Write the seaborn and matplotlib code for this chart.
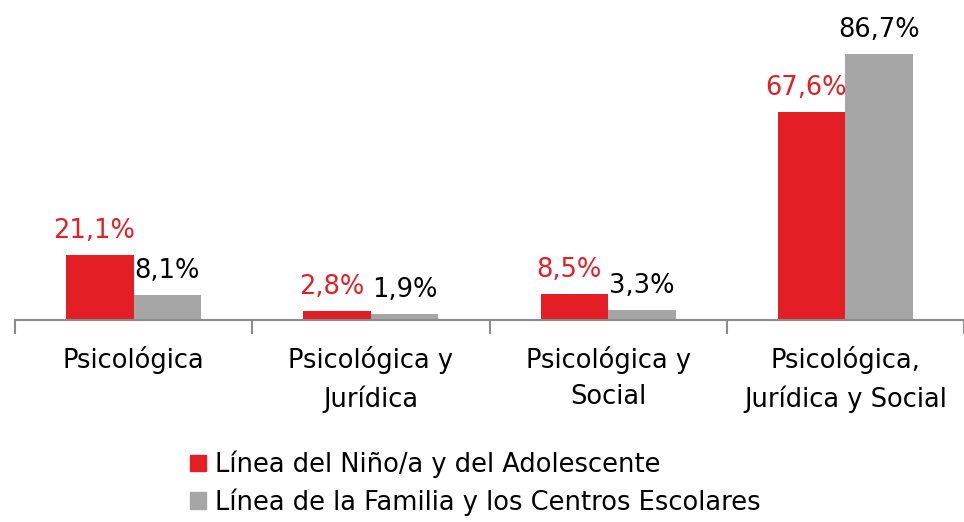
import pandas as pd
import matplotlib.pyplot as plt
import seaborn as sns
from matplotlib.ticker import FixedLocator

# datos
categorias = ["Psicológica", "Psicológica y\nJurídica", "Psicológica y\nSocial",
              "Psicológica,\nJurídica y Social"]
series = ["Línea del Niño/a y del Adolescente",
          "Línea de la Familia y los Centros Escolares"]
valores_nino = [21.1, 2.8, 8.5, 67.6]
valores_familia = [8.1, 1.9, 3.3, 86.7]
colores = ["#e31e24", "#a6a6a6"]

df = pd.DataFrame({
    "categoria": categorias * 2,
    "serie": [series[0]] * 4 + [series[1]] * 4,
    "valor": valores_nino + valores_familia,
})

sns.set_theme(style="white")
plt.rcParams['font.family'] = ['DejaVu Sans']
FS = 18.5

fig = plt.figure(figsize=(9.64, 5.22), dpi=100)
ax = fig.add_axes([15 / 964, 1 - 320 / 522, 949 / 964, 307 / 522])

sns.barplot(data=df, x="categoria", y="valor", hue="serie", hue_order=series,
            palette=colores, width=0.57, gap=0, saturation=1, linewidth=0,
            ax=ax, legend=True)

ax.set_ylim(0, 100)
ax.set_xlim(-0.5, 3.5)
ax.set_xlabel("")
ax.set_ylabel("")
ax.set_yticks([])
for s in ["top", "right", "left"]:
    ax.spines[s].set_visible(False)
ax.spines["bottom"].set_color("#8c8c8c")
ax.spines["bottom"].set_linewidth(1.5)

# etiquetas en los centros, marcas en los límites
ax.tick_params(axis="x", which="major", length=0, pad=19, labelsize=FS, labelcolor="black")
ax.xaxis.set_minor_locator(FixedLocator([-0.5, 0.5, 1.5, 2.5, 3.5]))
ax.tick_params(axis="x", which="minor", length=10, width=1.5, color="#8c8c8c",
               direction="out", bottom=True)
for lbl in ax.get_xticklabels():
    lbl.set_linespacing(1.5)

# etiquetas de datos
for cont, col, vals in zip(ax.containers, ["#e31e24", "black"],
                           [valores_nino, valores_familia]):
    for bar, v in zip(cont, vals):
        dx = -4 if col != "black" else 0
        ax.annotate(f"{v:.1f}%".replace(".", ","),
                    (bar.get_x() + bar.get_width() / 2, bar.get_height()),
                    xytext=(dx, 8), textcoords="offset points",
                    ha="center", va="bottom", fontsize=FS, color=col)

ax.get_legend().remove()
handles = [plt.Rectangle((0, 0), 1, 1, color=c) for c in colores]
leg = fig.legend(handles, series, loc="upper left", bbox_to_anchor=(180 / 964, 1 - 440 / 522),
                 frameon=False, fontsize=FS, handlelength=0.6, handleheight=0.6,
                 handletextpad=0.35, labelspacing=0.4, borderaxespad=0)
for t in leg.get_texts():
    t.set_color("black")

fig.savefig("out.png", dpi=100)
